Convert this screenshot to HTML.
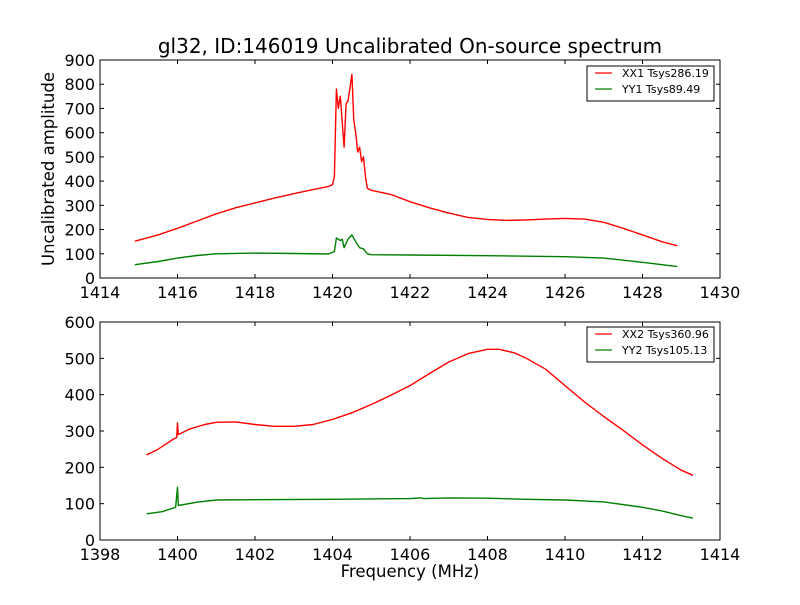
<!DOCTYPE html>
<html><head><meta charset="utf-8"><style>
body{margin:0;background:#fff;width:800px;height:600px;overflow:hidden}
svg text{font-family:"DejaVu Sans","Liberation Sans",sans-serif;fill:#000}
</style></head><body>
<svg id="chart" width="800" height="600" xmlns="http://www.w3.org/2000/svg">
<rect width="800" height="600" fill="#fff"/>
</svg>
<script>
const xx1Freq=[1414.9,1415.5,1416,1416.5,1417,1417.5,1418,1418.5,1419,1419.5,1419.9,1420.0,1420.05,1420.1,1420.15,1420.2,1420.3,1420.35,1420.4,1420.5,1420.55,1420.6,1420.65,1420.7,1420.75,1420.8,1420.85,1420.9,1421,1421.5,1422,1422.5,1423,1423.5,1424,1424.5,1425,1425.5,1426,1426.5,1427,1427.5,1428,1428.5,1428.9];
const xx1Vals=[152,178,205,235,265,290,310,330,348,365,378,385,420,780,700,750,540,720,730,840,650,600,520,540,480,500,420,370,362,345,315,290,268,250,242,238,240,243,246,243,230,205,178,150,133];
const yy1Freq=[1414.9,1415.5,1416,1416.5,1417,1418,1419,1419.9,1420.05,1420.1,1420.2,1420.25,1420.3,1420.4,1420.5,1420.6,1420.7,1420.8,1420.9,1421,1422,1424,1426,1427,1428,1428.9];
const yy1Vals=[55,68,82,93,100,103,101,99,110,165,155,160,125,160,178,150,125,120,100,96,95,92,88,82,65,47];
const xx2Freq=[1399.2,1399.5,1399.9,1399.98,1400.0,1400.02,1400.3,1400.7,1401,1401.5,1402,1402.5,1403,1403.5,1404,1404.5,1405,1405.5,1406,1406.5,1407,1407.5,1408,1408.3,1408.7,1409,1409.5,1410,1410.5,1411,1411.5,1412,1412.5,1413,1413.3];
const xx2Vals=[234,250,278,282,322,290,305,318,324,325,318,313,313,318,332,350,373,398,425,458,490,513,525,525,515,500,470,425,380,340,302,262,225,192,178];
const yy2Freq=[1399.2,1399.6,1399.95,1400.0,1400.02,1400.5,1401,1402,1404,1406,1406.3,1406.35,1407,1408,1409,1410,1411,1412,1412.5,1413,1413.3];
const yy2Vals=[72,78,90,145,95,104,110,111,112,114,116,114,116,115,112,110,105,90,80,67,60];
const topXTicks=[1414,1416,1418,1420,1422,1424,1426,1428,1430];
const topYTicks=[0,100,200,300,400,500,600,700,800,900];
const botXTicks=[1398,1400,1402,1404,1406,1408,1410,1412,1414];
const botYTicks=[0,100,200,300,400,500,600];

const NS="http://www.w3.org/2000/svg";
const svg=document.getElementById('chart');
function mk(tag,attrs,parent){const e=document.createElementNS(NS,tag);for(const k in attrs)e.setAttribute(k,attrs[k]);(parent||svg).appendChild(e);return e;}
function panel(name,L,T,R,B,x0,x1,y0,y1,xt,yt,series,legend){
  const g=mk('g',{});
  
  
  const sx=v=>L+(v-x0)/(x1-x0)*(R-L);
  const sy=v=>B-(v-y0)/(y1-y0)*(B-T);
  for(const s of series){
    const p=mk('polyline',{fill:'none',stroke:s.color,'stroke-width':1.4,'stroke-linejoin':'round',points:s.f.map((f,i)=>sx(f).toFixed(1)+','+sy(s.v[i]).toFixed(1)).join(' ')},g);
    
    
  }
  mk('rect',{x:L,y:T,width:R-L,height:B-T,fill:'none',stroke:'#000','stroke-width':1},g);
  for(const t of xt){const x=sx(t);
    mk('line',{x1:x,x2:x,y1:B,y2:B-4,stroke:'#000'},g);mk('line',{x1:x,x2:x,y1:T,y2:T+4,stroke:'#000'},g);
    const tx=mk('text',{x:x,y:B+20,'text-anchor':'middle','font-size':16},g);tx.textContent=t;
    
    }
  for(const t of yt){const y=sy(t);
    mk('line',{x1:L,x2:L+4,y1:y,y2:y,stroke:'#000'},g);mk('line',{x1:R,x2:R-4,y1:y,y2:y,stroke:'#000'},g);
    const tx=mk('text',{x:L-5,y:y+6,'text-anchor':'end','font-size':16},g);tx.textContent=t;
    
    }
  const lg=mk('g',{},g);
  
  
  mk('rect',{x:587,y:legend.y,width:127,height:35,fill:'#fff',stroke:'#000'},lg);
  series.forEach((s,i)=>{const y=legend.y+7+i*16;
    mk('line',{x1:595,x2:612,y1:y,y2:y,stroke:s.color,'stroke-width':1.3},lg);
    const tx=mk('text',{x:622,y:y+4,'font-size':11},lg);tx.textContent=s.label;
    
    });
}
panel('top-panel',100,60,720,278,1414,1430,0,900,topXTicks,topYTicks,
 [{name:'xx1-line',color:'#ff0000',f:xx1Freq,v:xx1Vals,label:'XX1 Tsys286.19'},{name:'yy1-line',color:'#008000',f:yy1Freq,v:yy1Vals,label:'YY1 Tsys89.49'}],{y:66});
panel('bottom-panel',100,322,720,540,1398,1414,0,600,botXTicks,botYTicks,
 [{name:'xx2-line',color:'#ff0000',f:xx2Freq,v:xx2Vals,label:'XX2 Tsys360.96'},{name:'yy2-line',color:'#008000',f:yy2Freq,v:yy2Vals,label:'YY2 Tsys105.13'}],{y:327});
let t=mk('text',{x:410,y:53,'text-anchor':'middle','font-size':20});t.textContent='gl32, ID:146019 Uncalibrated On-source spectrum';


t=mk('text',{x:0,y:0,'text-anchor':'middle','font-size':16.5,transform:'translate(54,169) rotate(-90)'});t.textContent='Uncalibrated amplitude';


t=mk('text',{x:410,y:577,'text-anchor':'middle','font-size':16.5});t.textContent='Frequency (MHz)';


</script>
</body></html>
